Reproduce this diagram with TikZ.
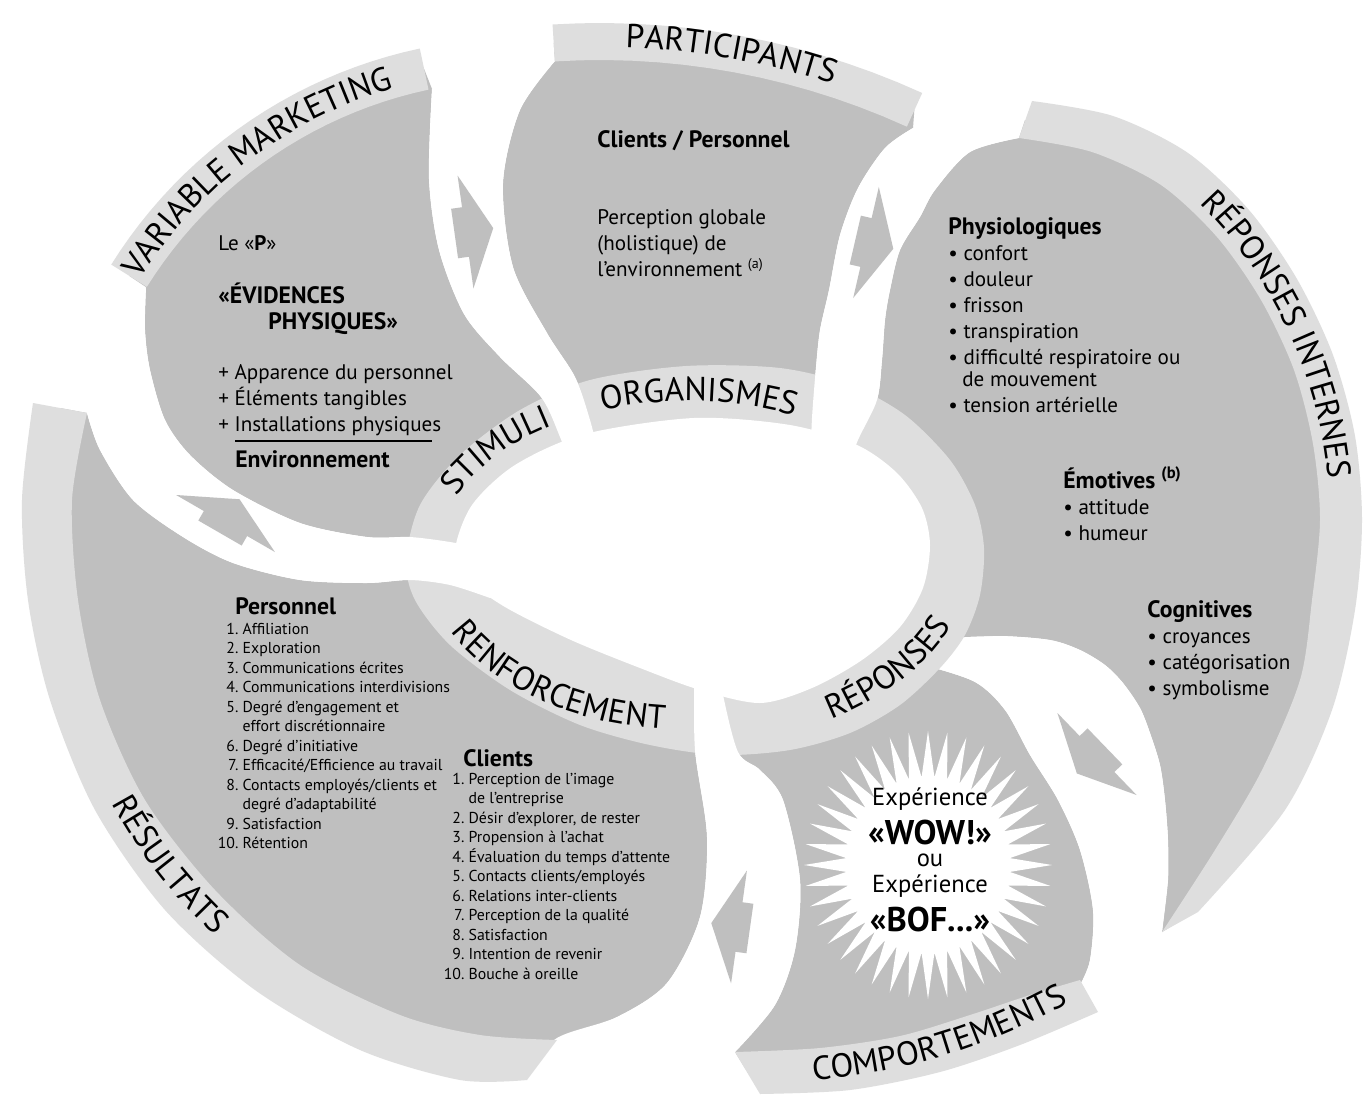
\documentclass[tikz,border=0pt]{standalone}
\usepackage{fontspec}
\setmainfont{PT Sans}
\usetikzlibrary{decorations.text,calc}
\definecolor{petal}{RGB}{191,191,191}
\definecolor{bandc}{RGB}{222,222,222}
\newcommand\bandfont{\fontsize{19}{21}\selectfont}
\newcounter{tn}
\newcommand\tl[4][txt]{\stepcounter{tn}\node[#1] (t\arabic{tn}) at (#2,#3) {#4};}
\newcommand\li[4]{\stepcounter{tn}\node[small] (t\arabic{tn}) at (#1,#2) {\makebox[12pt][r]{#3}~#4};}
\newcommand\blockarrow[4]{%
  \pgfmathsetmacro\aP{#4+90}\pgfmathsetmacro\aM{#4-90}%
  \fill[petal] ($(#2,#3)+(#4:28)$) coordinate (#1) -- ($(#2,#3)+(\aP:57)$) -- ($(#2,#3)+(\aP:25)$)
   -- ($(#2,#3)+(\aP:25)+(#4:-11)$) -- ($(#2,#3)+(\aM:25)+(#4:-11)$) -- ($(#2,#3)+(\aM:25)$)
   -- ($(#2,#3)+(\aM:57)$) -- cycle;}
\tikzset{
  txt/.style={anchor=base west,inner sep=0pt,font=\fontsize{12}{14}\selectfont},
  txtb/.style={txt,font=\fontsize{13.5}{15}\selectfont\bfseries},
  small/.style={anchor=base west,inner sep=0pt,font=\fontsize{9}{11}\selectfont},
  ctr/.style={anchor=base,inner sep=0pt,font=\fontsize{14}{16}\selectfont},
  ctrb/.style={anchor=base,inner sep=0pt,font=\fontsize{19.5}{21}\selectfont\bfseries},
  bandtext/.style={decorate,decoration={text along path,text align=center,text={|\bandfont|#1}}}
}
\begin{document}
\begin{tikzpicture}[x=0.02cm,y=-0.02cm]
\fill[white] (0,0) rectangle (1365,1095);
\useasboundingbox (0,0) rectangle (1365,1095);

% ---------- petals ----------
% A : Stimuli
\fill[petal] plot[variable=\vv, samples at={-148,-146,...,-102}] ({520+461*cos(\vv)},{520+461*sin(\vv)})
  -- plot[smooth] coordinates {(432,89) (429,179) (439,250) (464,314) (500,357) (541,397) (560,437) (572,470)}
  -- (530,550)
  -- plot[smooth] coordinates {(480,548) (450,542) (410,537) (367,537) (300,523) (233,490) (190,455) (165,420) (150,370) (145,330) (146,287)}
  -- cycle;
% B : Organismes
\fill[petal] plot[variable=\vv, samples at={-93.5,-91.5,...,-65.5}] ({600+758*cos(\vv)},{800+758*sin(\vv)})
  -- plot[smooth] coordinates {(913,128) (885,148) (858,188) (840,235) (829,290) (820,330) (816,367) (812,418) (810,470)}
  -- (700,470)
  -- plot[smooth] coordinates {(600,460) (590,420) (575,377) (547,333) (513,267) (503,183) (520,110) (555,61)}
  -- cycle;
% C : Reponses internes
\fill[petal] plot[smooth] coordinates {(1025,120) (1102,134) (1175,169) (1233,223) (1279,290) (1313,362) (1334,440) (1341,520) (1333,605) (1316,695) (1273,790) (1180,921)}
  -- (1162,932)
  -- plot[smooth] coordinates {(1168,880) (1168,840) (1165,800) (1160,765) (1150,733) (1140,708) (1123,683) (1105,665) (1080,650) (1050,640) (1000,636) (945,638)}
  -- (880,560)
  -- plot[smooth] coordinates {(845,475) (858,440) (877,400) (882,360) (885,320) (890,290) (900,250) (920,217) (935,190) (970,152) (1019,138)}
  -- cycle;
% D : Comportements
\fill[petal] plot[smooth] coordinates {(923,665) (975,682) (1005,710) (1030,755) (1058,800) (1080,850) (1093,910) (1090,960) (1080,985)}
  -- (1089,996)
  -- plot[smooth] coordinates {(995,1030) (920,1054) (835,1069) (748,1073)}
  -- plot[smooth] coordinates {(735,1052) (775,1005) (795,950) (800,880) (783,800) (760,770) (738,752) (722,690) (715,640)}
  -- (900,580) -- cycle;
% F : Resultats
\fill[petal] plot[smooth] coordinates {(60,408) (47,500) (53,600) (75,700) (120,805) (190,900) (278,978) (380,1032) (470,1058) (542,1060)}
  -- plot[smooth] coordinates {(557,1038) (617,1017) (667,983) (700,917) (707,837) (695,750) (694,673)}
  -- (600,610)
  -- plot[smooth] coordinates {(490,598) (450,585) (410,580) (367,583) (300,580) (233,563) (183,537) (133,500) (100,450) (87,413)}
  -- cycle;

% gap C|D (outside the ring)
\fill[white] plot[smooth] coordinates {(900,610) (945,638) (1000,636) (1050,640) (1080,650) (1105,665) (1123,683) (1140,708) (1150,733) (1160,765) (1165,800) (1168,840) (1168,880) (1162,932) (1158,960)}
  -- (1070,1010)
  -- plot[smooth] coordinates {(1080,985) (1090,960) (1093,910) (1080,850) (1058,800) (1030,755) (1005,710) (975,682) (923,665) (880,660)}
  -- cycle;

% ---------- central ring ----------
\fill[bandc] plot[smooth cycle] coordinates {(406,560) (420,505) (460,455) (520,410) (590,380) (686,366) (780,368) (850,385) (905,415) (950,460) (975,505) (984,548) (980,595) (965,635) (940,668) (900,705) (850,733) (790,750) (720,755) (650,745) (580,725) (510,690) (450,645) (415,600)};
\fill[white] plot[smooth cycle] coordinates {(455,550) (472,505) (515,465) (585,434) (694,418) (790,425) (857,445) (897,473) (922,508) (930,545) (923,588) (900,627) (862,660) (812,688) (760,703) (700,690) (640,668) (571,640) (505,607) (466,578)};

% ---------- white gaps cutting the ring ----------
\fill[white] plot[smooth] coordinates {(432,89) (429,179) (439,250) (464,314) (500,357) (541,397) (560,437) (572,470)}
  -- (600,520)
  -- plot[smooth] coordinates {(600,460) (590,420) (575,377) (547,333) (513,267) (503,183) (520,110) (555,61)} -- cycle;
\fill[white] plot[smooth] coordinates {(913,128) (885,148) (858,188) (840,235) (829,290) (820,330) (816,367) (812,418) (810,470)}
  -- (830,500)
  -- plot[smooth] coordinates {(845,475) (858,440) (877,400) (882,360) (885,320) (890,290) (900,250) (920,217) (935,190) (970,152) (1019,138)} -- cycle;
\fill[white] plot[smooth] coordinates {(690,640) (694,673) (695,750) (707,837) (700,917) (667,983) (617,1017) (557,1038) (520,1075)}
  -- (560,1095) -- (745,1095)
  -- plot[smooth] coordinates {(735,1052) (775,1005) (795,950) (800,880) (783,800) (760,770) (738,752) (722,690) (715,640)} -- cycle;
\fill[white] plot[smooth] coordinates {(146,287) (145,330) (150,370) (165,420) (190,455) (233,490) (300,523) (367,537) (410,537) (450,542) (480,548)}
  -- (545,570)
  -- plot[smooth] coordinates {(490,598) (450,585) (410,580) (367,583) (300,580) (233,563) (183,537) (133,500) (100,450) (87,413)} -- cycle;

% ---------- outer bands ----------
\fill[bandc] plot[variable=\vv, samples at={-148,-146,...,-102}] ({520+482*cos(\vv)},{520+482*sin(\vv)})
  -- plot[variable=\vv, samples at={-102,-104,...,-148}] ({520+440*cos(\vv)},{520+440*sin(\vv)}) -- cycle;
\fill[bandc] plot[variable=\vv, samples at={-93.5,-91.5,...,-65.5}] ({600+777*cos(\vv)},{800+777*sin(\vv)})
  -- plot[variable=\vv, samples at={-65.5,-67.5,...,-93.5}] ({600+740*cos(\vv)},{800+740*sin(\vv)}) -- cycle;
\fill[bandc] plot[smooth] coordinates {(1032,101) (1113,116) (1188,153) (1249,210) (1297,279) (1333,355) (1355,436) (1362,520) (1355,610) (1332,710) (1285,810) (1198,912)}
  -- plot[smooth] coordinates {(1162,932) (1215,850) (1262,770) (1300,680) (1312,600) (1320,520) (1313,444) (1294,370) (1261,300) (1217,237) (1161,185) (1092,152) (1019,138)} -- cycle;
\fill[bandc] plot[smooth] coordinates {(33,403) (22,500) (28,600) (50,700) (95,810) (165,910) (255,990) (360,1050) (460,1080) (527,1080)}
  -- plot[smooth] coordinates {(557,1040) (480,1035) (400,1015) (300,965) (215,890) (145,800) (100,700) (78,600) (72,500) (87,413)} -- cycle;
\fill[bandc] plot[smooth] coordinates {(760,1094) (850,1090) (940,1072) (1020,1045) (1098,1012)}
  -- plot[smooth] coordinates {(1080,980) (1030,995) (970,1015) (900,1036) (820,1048) (735,1052)} -- cycle;

% ---------- arrows ----------
\blockarrow{ar1}{465.5}{232}{-8}
\blockarrow{ar2}{866}{242.5}{13}
\blockarrow{ar3}{1097}{754}{136}
\blockarrow{ar4}{739}{927}{188}
\blockarrow{ar5}{225.5}{523.5}{-60}

% ---------- starburst ----------
\fill[white] plot[variable=\vv, samples at={0,1,...,79}]
  ({928+ifthenelse(iseven(\vv),124,82)*cos(4.5*\vv)},{865+ifthenelse(iseven(\vv),134,88)*sin(4.5*\vv)}) -- cycle;

% ---------- band labels ----------
\path[bandtext={VARIABLE MARKETING}] plot[variable=\vv, samples at={-167,-165,...,-87}] ({520+450*cos(\vv)},{520+450*sin(\vv)});
\path[bandtext={PARTICIPANTS}] plot[variable=\vv, samples at={-105,-104,...,-55}] ({600+753*cos(\vv)},{800+753*sin(\vv)});
\path[bandtext={STIMULI}] plot[variable=\vv, samples at={-188,-186,...,-104}] ({688+248*cos(\vv)},{551+150*sin(\vv)});
\path[bandtext={ORGANISMES}] plot[variable=\vv, samples at={-130,-128,...,-44}] ({688+248*cos(\vv)},{551+150*sin(\vv)});
\path[bandtext={RÉPONSES}] plot[variable=\vv, samples at={80,78,...,-6}] ({688+285*cos(\vv)},{553+192*sin(\vv)});
\path[bandtext={RENFORCEMENT}] plot[variable=\vv, samples at={172,170,...,82}] ({688+265*cos(\vv)},{553+177*sin(\vv)});
\path[bandtext={RÉPONSES INTERNES}] plot[variable=\vv, samples at={-57,-56,...,7}] ({880+450*cos(\vv)},{520+450*sin(\vv)});
\path[bandtext={RÉSULTATS}] plot[variable=\vv, samples at={172,171,...,112}] ({560+510*cos(\vv)},{560+510*sin(\vv)});
\path[bandtext={COMPORTEMENTS}] plot[variable=\vv, samples at={91,90,...,55}] ({760+633*cos(\vv)},{450+633*sin(\vv)});

% ---------- texts: Stimuli ----------
\tl{218}{250}{Le «\textbf{P}»}
\tl[txtb]{218}{303}{«ÉVIDENCES}
\tl[txtb]{268}{329}{PHYSIQUES»}
\tl{218}{379}{+ Apparence du personnel}
\tl{218}{405}{+ Éléments tangibles}
\tl{218}{431}{+ Installations physiques}
\draw[line width=0.6pt] (235,441) -- (432,441);
\tl[txtb]{235}{467}{Environnement}

% ---------- Organismes ----------
\tl[txtb]{597}{147}{Clients / Personnel}
\tl{597}{224}{Perception globale}
\tl{597}{250}{(holistique) de}
\tl{597}{276}{l’environnement \textsuperscript{(a)}}

% ---------- Reponses internes ----------
\tl[txtb]{948}{234}{Physiologiques}
\tl{948}{260}{• confort}
\tl{948}{286}{• douleur}
\tl{948}{312}{• frisson}
\tl{948}{338}{• transpiration}
\tl{948}{364}{• difficulté respiratoire ou}
\tl{962}{386}{de mouvement}
\tl{948}{412}{• tension artérielle}
\tl[txtb]{1063}{488}{Émotives \textsuperscript{(b)}}
\tl{1063}{514}{• attitude}
\tl{1063}{540}{• humeur}
\tl[txtb]{1147}{617}{Cognitives}
\tl{1147}{643}{• croyances}
\tl{1147}{669}{• catégorisation}
\tl{1147}{695}{• symbolisme}

% ---------- Comportements ----------
\tl[ctr]{930}{805}{Expérience}
\tl[ctrb]{930}{844}{«WOW!»}
\tl[ctr]{930}{866}{ou}
\tl[ctr]{930}{892}{Expérience}
\tl[ctrb]{930}{931}{«BOF...»}

% ---------- Resultats ----------
\tl[txtb]{235}{614}{Personnel}
\li{217}{634}{1.}{Affiliation}
\li{217}{653.5}{2.}{Exploration}
\li{217}{673}{3.}{Communications écrites}
\li{217}{692.5}{4.}{Communications interdivisions}
\li{217}{712}{5.}{Degré d’engagement et}
\li{217}{731.5}{}{effort discrétionnaire}
\li{217}{751}{6.}{Degré d’initiative}
\li{217}{770.5}{7.}{Efficacité/Efficience au travail}
\li{217}{790}{8.}{Contacts employés/clients et}
\li{217}{809.5}{}{degré d’adaptabilité}
\li{217}{829}{9.}{Satisfaction}
\li{217}{848.5}{10.}{Rétention}
\tl[txtb]{463}{766}{Clients}
\li{443}{784}{1.}{Perception de l’image}
\li{443}{803.5}{}{de l’entreprise}
\li{443}{823}{2.}{Désir d’explorer, de rester}
\li{443}{842.5}{3.}{Propension à l’achat}
\li{443}{862}{4.}{Évaluation du temps d’attente}
\li{443}{881.5}{5.}{Contacts clients/employés}
\li{443}{901}{6.}{Relations inter-clients}
\li{443}{920.5}{7.}{Perception de la qualité}
\li{443}{940}{8.}{Satisfaction}
\li{443}{959.5}{9.}{Intention de revenir}
\li{443}{979}{10.}{Bouche à oreille}
\end{tikzpicture}
\end{document}
